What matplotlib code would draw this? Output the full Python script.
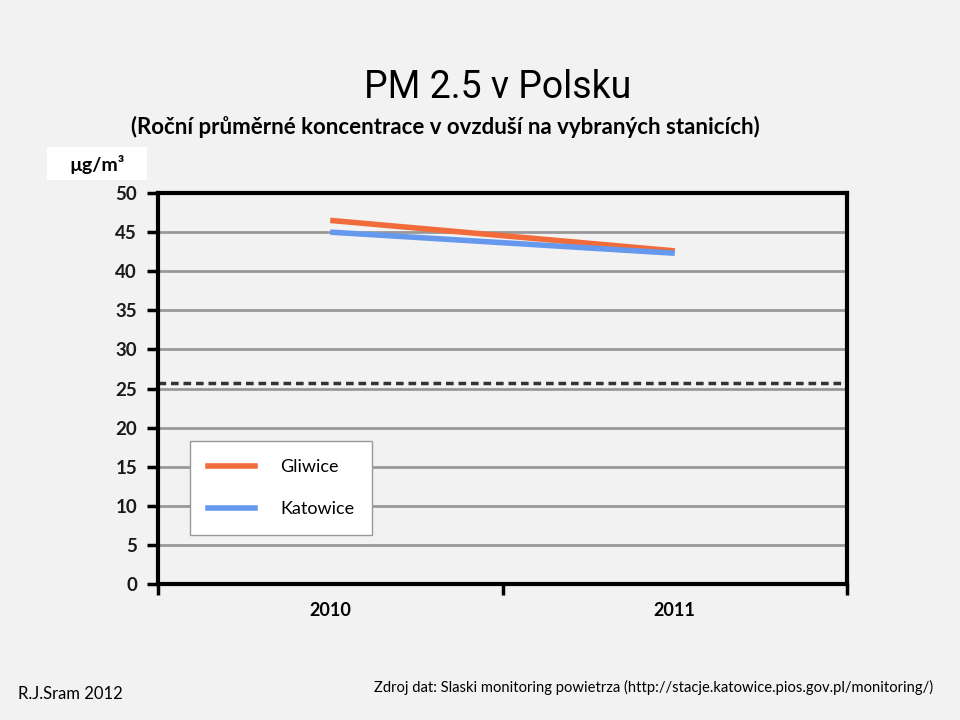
import matplotlib
matplotlib.use("Agg")
import matplotlib.pyplot as plt
from matplotlib.lines import Line2D

years = ["2010", "2011"]
gliwice = [46.5, 42.6]
katowice = [45.0, 42.3]
limit_value = 25.7
yticks = [0, 5, 10, 15, 20, 25, 30, 35, 40, 45, 50]

plt.rcParams['font.family'] = ['Lato', 'DejaVu Sans']
bg = "#f2f2f2"
fig = plt.figure(figsize=(9.6, 7.2), dpi=100, facecolor=bg)
ax = fig.add_axes([0.1646, 0.1889, 0.7177, 0.543], facecolor=bg)

x = list(range(len(years)))
ax.set_xlim(-0.5, len(years) - 0.5)
ax.set_ylim(0, 50)
for v in yticks[1:-1]:
    ax.axhline(v, color="#999999", lw=2, zorder=1)
ax.axhline(limit_value, color="#333333", lw=2.5, ls=(0, (2.2, 1.4)), zorder=2)
ax.plot(x, gliwice, color="#f26b3a", lw=4, solid_capstyle="butt", zorder=3)
ax.plot(x, katowice, color="#6699ee", lw=4, solid_capstyle="butt", zorder=3)

for s in ax.spines.values():
    s.set_color("black")
    s.set_linewidth(3)

ax.set_yticks(yticks)
ax.set_yticklabels([str(v) for v in yticks], fontsize=13.5, fontweight="bold", color="#1a1a1a")
ax.tick_params(axis="y", length=8, width=2.5, pad=7)
ax.set_xticks(x)
ax.set_xticklabels(years, fontsize=13, fontweight="bold")
ax.tick_params(axis="x", which="major", length=0, pad=13)
ax.set_xticks([-0.5, 0.5, 1.5], minor=True)
ax.tick_params(axis="x", which="minor", length=8, width=2.5)

handles = [Line2D([], [], color="#f26b3a", lw=4), Line2D([], [], color="#6699ee", lw=4)]
leg = ax.legend(handles, ["Gliwice", "Katowice"], loc="upper left",
                bbox_to_anchor=(0.046, 0.366), frameon=True, fancybox=False,
                fontsize=13, handlelength=2.6, handletextpad=1.4,
                labelspacing=1.45, borderpad=1.0, borderaxespad=0)
leg.get_frame().set_edgecolor("#999999")
leg.get_frame().set_facecolor("white")
leg.get_frame().set_linewidth(1)
leg.get_frame().set_alpha(1)

fig.text(0.518, 0.879, "PM 2.5 v Polsku", ha="center", va="center",
         fontsize=27, family=["Liberation Sans Narrow", "Roboto", "DejaVu Sans"])
fig.text(0.464, 0.823, "(Roční průměrné koncentrace v ovzduší na vybraných stanicích)",
         ha="center", va="center", fontsize=16, fontweight="bold")
fig.text(0.101, 0.771, "µg/m³", ha="center", va="center", fontsize=14, fontweight="bold")
fig.patches.append(plt.Rectangle((47 / 960, 1 - 180 / 720), 100 / 960, 33 / 720,
                                 transform=fig.transFigure, facecolor="white",
                                 edgecolor="none", zorder=0))
fig.text(0.019, 0.036, "R.J.Sram 2012", ha="left", va="center", fontsize=12)
fig.text(0.39, 0.045, "Zdroj dat: Slaski monitoring powietrza (http://stacje.katowice.pios.gov.pl/monitoring/)",
         ha="left", va="center", fontsize=10.6)

fig.savefig("out.png", dpi=100, facecolor=bg)
